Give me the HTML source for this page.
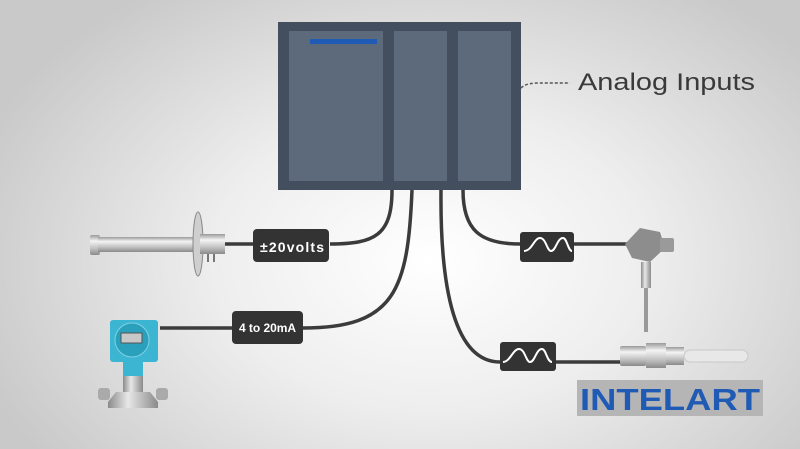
<!DOCTYPE html>
<html><head><style>
html,body{margin:0;padding:0;width:800px;height:449px;overflow:hidden}
body{background:radial-gradient(ellipse 480px 330px at 430px 260px,#ffffff 0%,#eeeeee 45%,#c9c9c9 100%)}
svg{position:absolute;left:0;top:0}
text{font-family:"Liberation Sans",sans-serif}
</style></head><body>
<svg width="800" height="449" viewBox="0 0 800 449">
<defs>
<linearGradient id="metal" x1="0" y1="0" x2="0" y2="1">
<stop offset="0" stop-color="#9a9a9a"/><stop offset="0.3" stop-color="#f4f4f4"/><stop offset="0.7" stop-color="#bdbdbd"/><stop offset="1" stop-color="#8a8a8a"/></linearGradient>
<linearGradient id="metalv" x1="0" y1="0" x2="1" y2="0">
<stop offset="0" stop-color="#8a8a8a"/><stop offset="0.4" stop-color="#e8e8e8"/><stop offset="1" stop-color="#8a8a8a"/></linearGradient>
</defs>
<g fill="none" stroke="#3b3b3b" stroke-width="3.5">
<path d="M392 190 C392 235 375 244 330 244"/>
<path d="M412 190 C408 290 395 328 303 328 L160 328"/>
<path d="M441 190 C440 290 455 362 500 362"/>
<path d="M463 190 C463 230 480 244 520 244"/>
<path d="M225 244 L253 244"/>
<path d="M574 244 L630 244"/>
<path d="M556 362 L620 362"/>
</g>
<rect x="278" y="22" width="243" height="168" fill="#434f5f"/>
<rect x="289" y="31" width="94" height="150" fill="#5c6a7c"/>
<rect x="394" y="31" width="53" height="150" fill="#5c6a7c"/>
<rect x="458" y="31" width="53" height="150" fill="#5c6a7c"/>
<rect x="310" y="39" width="67" height="5" fill="#1f5bb5"/>
<path d="M521 88 C528 82 532 83 570 83" fill="none" stroke="#555" stroke-width="1.5" stroke-dasharray="3,2"/>
<text x="578" y="90" font-size="24" fill="#3a3a3a" textLength="177" lengthAdjust="spacingAndGlyphs">Analog Inputs</text>
<rect x="253" y="229" width="76" height="33" rx="4" fill="#333"/>
<text x="260" y="252" font-size="14" font-weight="bold" fill="#fff" textLength="64">±20volts</text>
<rect x="232" y="311" width="71" height="33" rx="4" fill="#333"/>
<text x="239" y="332" font-size="12" font-weight="bold" fill="#fff" textLength="57">4 to 20mA</text>
<rect x="520" y="232" width="54" height="30" rx="3" fill="#333"/>
<path d="M524 251 C532 251 534 238 540 238 C546 238 547 251 551 251 C556 251 557 238 563 238 C567 238 568 251 572 251" fill="none" stroke="#fff" stroke-width="2"/>
<rect x="500" y="342" width="56" height="29" rx="3" fill="#333"/>
<path d="M503 362 C510 362 513 349 519 349 C525 349 526 362 530 362 C535 362 536 349 542 349 C546 349 547 362 552 362" fill="none" stroke="#fff" stroke-width="2"/>
<rect x="90" y="235" width="10" height="20" rx="2" fill="url(#metal)"/>
<rect x="98" y="237" width="100" height="15" fill="url(#metal)"/>
<ellipse cx="198" cy="244" rx="5" ry="32" fill="#cfcfcf" stroke="#888"/>
<rect x="200" y="234" width="25" height="20" fill="url(#metal)"/>
<rect x="207" y="254" width="2" height="8" fill="#777"/><rect x="213" y="254" width="2" height="8" fill="#777"/>
<rect x="110" y="320" width="48" height="42" rx="3" fill="#3bb5d1"/>
<circle cx="132" cy="340" r="17" fill="#2aa0bd" stroke="#7fd3e4"/>
<rect x="121" y="333" width="21" height="10" fill="#c8c8c8" stroke="#555"/>
<rect x="123" y="362" width="20" height="14" fill="#3bb5d1"/>
<rect x="123" y="376" width="20" height="16" fill="url(#metalv)"/>
<path d="M116 392 L150 392 L158 402 L158 408 L108 408 L108 402Z" fill="url(#metalv)"/>
<rect x="98" y="388" width="12" height="12" rx="3" fill="#aaa"/><rect x="156" y="388" width="12" height="12" rx="3" fill="#aaa"/>
<path d="M625 244 L640 228 L660 232 L665 248 L650 262 L632 258Z" fill="#8d8d8d"/>
<rect x="660" y="238" width="14" height="14" rx="2" fill="#9a9a9a"/>
<rect x="641" y="262" width="10" height="26" fill="url(#metalv)"/>
<rect x="644" y="288" width="4" height="44" fill="#999"/>
<rect x="620" y="346" width="26" height="20" rx="2" fill="url(#metal)"/>
<rect x="646" y="343" width="20" height="25" fill="url(#metal)"/>
<rect x="666" y="347" width="18" height="18" fill="url(#metal)"/>
<rect x="684" y="350" width="64" height="12" rx="6" fill="#e8e8e8" stroke="#c8c8c8"/>
<rect x="577" y="380" width="186" height="36" fill="#b5b5b5"/>
<text x="580" y="410" font-size="31" font-weight="bold" fill="#1f5bb5" textLength="180" lengthAdjust="spacingAndGlyphs">INTELART</text>
</svg>
</body></html>
